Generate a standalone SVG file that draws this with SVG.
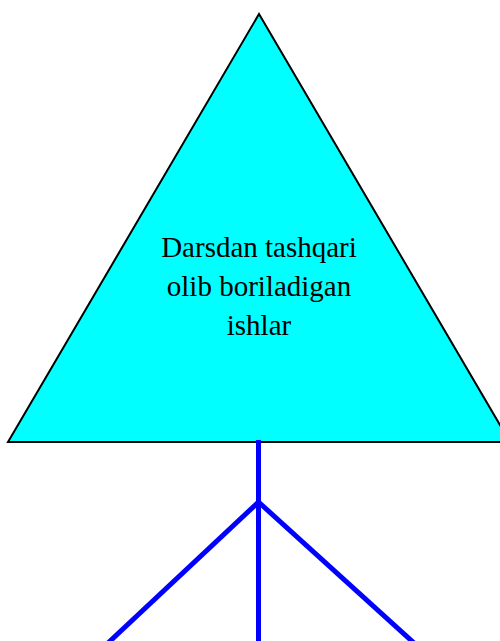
<svg xmlns="http://www.w3.org/2000/svg" width="500" height="641" viewBox="0 0 500 641">
<style>
.lbl{font-family:"Liberation Serif","Times New Roman",serif;font-size:29px;fill:#000;text-anchor:middle}
.conn{stroke:#0000ff;stroke-width:5;fill:none}
</style>
<rect width="500" height="641" fill="#fff"/>
<g id="triangle">
<polygon points="259,14 8,442 510,442" fill="#00ffff" stroke="#000" stroke-width="2"/>
<text class="lbl" x="259" y="257">Darsdan tashqari</text>
<text class="lbl" x="259" y="296">olib boriladigan</text>
<text class="lbl" x="259" y="335">ishlar</text>
</g>
<g id="connectors">
<line class="conn" x1="258.5" y1="440" x2="258.5" y2="641"/>
<line class="conn" x1="258.5" y1="502" x2="108" y2="643"/>
<line class="conn" x1="258.5" y1="502" x2="414" y2="643"/>
</g>
</svg>
